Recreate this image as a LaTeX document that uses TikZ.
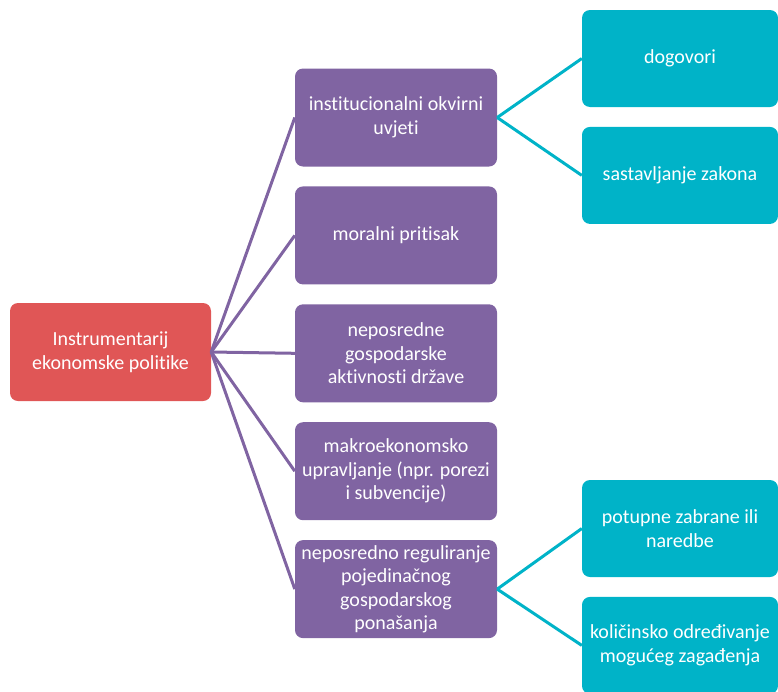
\documentclass[tikz,border=0pt]{standalone}
\usepackage{fontspec}
\setmainfont[Ligatures=NoCommon]{Carlito}
\usetikzlibrary{positioning}
\definecolor{rootred}{RGB}{224,86,86}
\definecolor{midpurple}{RGB}{128,100,162}
\definecolor{leafcyan}{RGB}{0,179,200}

\begin{document}
\begin{tikzpicture}[x=1pt, y=-1pt, node distance=19.5pt,
		box/.style={rectangle, rounded corners=8pt, minimum height=98pt, align=center, text=white, font=\fontsize{20}{23.5}\selectfont, inner sep=2pt},
		rootbox/.style={box, fill=rootred, minimum width=201pt},
		midbox/.style={box, fill=midpurple, minimum width=202pt},
		leafbox/.style={box, fill=leafcyan, minimum width=196pt, minimum height=97pt},
		midline/.style={draw=midpurple, line width=3pt},
		leafline/.style={draw=leafcyan, line width=3pt}]
		\useasboundingbox (0,0) rectangle (778,691);
		%diagram
		\node[rootbox] (root) at (110.5,352) {Instrumentarij\\ekonomske politike};
		\node[midbox] (frame) at (396,117.5) {institucionalni okvirni\\uvjeti};
		\node[midbox, below=of frame] (moral) {moralni pritisak};
		\node[midbox, below=of moral] (state) {neposredne\\gospodarske\\aktivnosti države};
		\node[midbox, below=of state] (macro) {makroekonomsko\\upravljanje (npr. porezi\\i subvencije)};
		\node[midbox, below=of macro] (rule) {neposredno reguliranje\\pojedinačnog\\gospodarskog\\ponašanja};
		\node[leafbox] (deal) at (680,58.5) {dogovori};
		\node[leafbox, below=of deal] (law) {sastavljanje zakona};
		\node[leafbox] (ban) at (680,528.5) {potupne zabrane ili\\naredbe};
		\node[leafbox, below=of ban] (quota) {količinsko određivanje\\mogućeg zagađenja};
		%connectors
		\foreach \n in {frame, moral, state, macro, rule}
			\draw[midline] (root.east) -- (\n.west);
		\foreach \n in {deal, law}
			\draw[leafline] (frame.east) -- (\n.west);
		\foreach \n in {ban, quota}
			\draw[leafline] (rule.east) -- (\n.west);
\end{tikzpicture}
\end{document}
